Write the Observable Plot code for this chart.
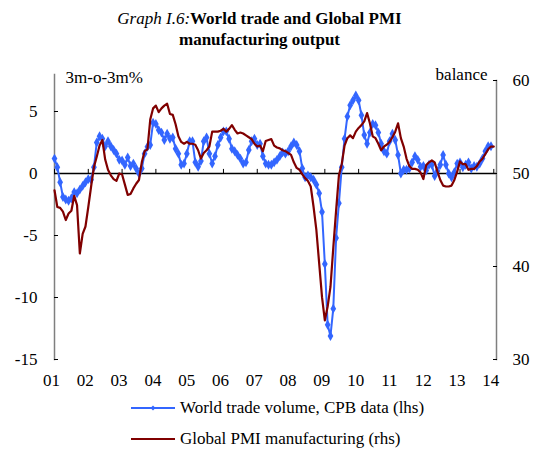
<!DOCTYPE html>
<html>
<head>
<meta charset="utf-8">
<script src="https://cdn.jsdelivr.net/npm/d3@7"></script>
<script src="https://cdn.jsdelivr.net/npm/@observablehq/plot@0.6"></script>
<style>
  html, body { margin: 0; padding: 0; background: #fff; }
  #wrap { position: relative; width: 533px; height: 449px; font-family: "Liberation Serif", "Times New Roman", serif; color: #000; }
  #title { position: absolute; top: 8px; left: 0; width: 519px; text-align: center; font-size: 17px; line-height: 21px; }
  #title i { font-style: italic; font-weight: normal; }
  #title b { font-weight: bold; }
  #chart { position: absolute; top: 60px; left: 0; }
  .leg { position: absolute; left: 131px; height: 20px; display: flex; align-items: center; font-size: 17px; white-space: nowrap; }
  .leg svg { margin-right: 5px; }
</style>
</head>
<body>
<div id="wrap">
  <div id="title"><i>Graph I.6:</i><b>World trade and Global PMI<br>manufacturing output</b></div>
  <div id="chart"></div>
  <div class="leg" style="top:398px"><svg width="44" height="10"><line x1="0" y1="5" x2="44" y2="5" stroke="#3366ff" stroke-width="2"/><path d="M22,2.5L24.5,5L22,7.5L19.5,5Z" fill="#3366ff"/></svg><span>World trade volume, CPB data (lhs)</span></div>
  <div class="leg" style="top:429px"><svg width="44" height="10"><line x1="0" y1="5" x2="44" y2="5" stroke="#800000" stroke-width="2"/></svg><span>Global PMI manufacturing (rhs)</span></div>
</div>
<script>
// World trade volume, CPB data, 3m-o-3m %, monthly from Jan 2001
const trade = [
  1.2, 0.5, -0.7, -1.9, -2.1, -2.2, -2.0, -1.5, -1.6, -1.3, -1.0, -0.7,
  -0.45, -0.5, 0.5, 2.5, 3.0, 2.8, 2.2, 2.6, 2.2, 1.9, 1.6, 1.1,
  1.05, 0.7, 1.3, 0.6, 0.8, 0.4, 0.0, 0.4, 1.6, 2.15, 2.3, 4.1,
  4.0, 3.5, 3.3, 2.7, 3.2, 2.8, 2.9, 2.0, 1.6, 0.7, 0.8, 1.6,
  2.6, 2.6, 0.9, 0.55, 1.0, 2.6, 2.9, 1.6, 0.8, 1.4, 2.3, 2.9,
  3.4, 3.4, 2.8, 2.0, 1.8, 1.5, 1.2, 0.8, 0.9, 1.9, 2.6, 2.8,
  2.3, 2.4, 1.4, 0.8, 0.7, 0.7, 0.9, 1.1, 1.4, 1.7, 1.6, 1.8,
  2.2, 2.5, 2.3, 1.8, 0.4, -0.3, -0.15, -0.3, -0.5, -0.9, -1.6, -3.1,
  -7.3, -12.2, -13.1, -10.9, -5.2, -2.4, 0.5, 2.8, 4.6, 5.5, 5.9, 6.3,
  5.9, 4.7, 3.1, 2.4, 3.3, 4.0, 3.9, 3.3, 2.4, 1.8, 1.6, 2.6,
  3.2, 2.7, 1.5, 0.0, 0.3, 0.3, 0.4, 0.9, 1.4, 1.1, 0.55, 0.6,
  0.25, 0.7, 0.7, -0.2, 0.2, 0.7, 1.5, 0.7, 0.0, -0.3, 0.1, 0.8,
  0.9, 0.5, 0.7, 0.9, 0.4, 0.6, 0.55, 0.8, 1.2, 1.8, 2.2, 2.2
];
// Global PMI manufacturing output (balance), monthly from Jan 2001
const pmi = [
  48.2, 46.4, 46.3, 45.9, 45.0, 45.7, 46.0, 47.6, 46.6, 41.4, 43.5, 44.3,
  46.4, 48.6, 50.7, 51.8, 53.0, 53.6, 51.5, 50.4, 49.8, 49.4, 49.2, 50.0,
  49.9, 48.8, 47.7, 47.8, 48.4, 48.9, 49.3, 51.2, 52.4, 52.6, 55.8, 57.0,
  57.3, 56.6, 57.0, 57.3, 57.5, 56.4, 56.3, 55.3, 54.0, 53.4, 53.2, 53.4,
  53.2, 53.2, 53.1, 52.5, 51.6, 52.2, 52.5, 52.9, 54.5, 54.5, 54.5, 54.6,
  54.8, 54.5, 54.8, 55.2, 54.7, 54.3, 54.4, 54.3, 54.1, 53.9, 53.7, 53.2,
  52.9, 53.0, 52.4, 53.5, 53.6, 53.7, 53.0, 52.8, 52.7, 52.5, 52.4, 52.2,
  52.0, 51.2, 50.6, 50.4, 49.9, 49.5, 49.2, 48.6, 46.4, 43.9, 40.3, 36.7,
  34.2, 35.7, 37.8, 42.0, 46.0, 49.8, 51.0, 53.0, 53.8, 54.1, 53.8, 54.5,
  54.9, 55.2, 55.6, 56.5, 55.4, 54.0, 53.8, 53.2, 52.5, 52.9, 53.1, 53.4,
  53.9, 54.5, 55.4, 53.8, 52.9, 51.6, 50.8, 50.5, 50.5, 50.4, 50.1, 49.4,
  50.9, 51.2, 51.4, 51.2, 50.2, 49.3, 48.7, 48.6, 48.6, 48.7, 49.3, 50.2,
  51.3, 51.0, 51.0, 50.4, 50.5, 50.5, 50.8, 51.3, 51.6, 52.1, 52.6, 52.9,
  52.9
];
const startYear = 2001;
const years = [2001, 2002, 2003, 2004, 2005, 2006, 2007, 2008, 2009, 2010, 2011, 2012, 2013, 2014];
const yearLabels = ["01", "02", "03", "04", "05", "06", "07", "08", "09", "10", "11", "12", "13", "14"];
const leftTicks = [-15, -10, -5, 0, 5];
const rightTicks = [30, 40, 50, 60];
const leftDomain = [-15, 7.5];
const rightDomain = [30, 60];

// map right-axis (balance) values onto the left scale
const k = (leftDomain[1] - leftDomain[0]) / (rightDomain[1] - rightDomain[0]);
const toLeft = p => leftDomain[0] + (p - rightDomain[0]) * k;
const toRight = v => rightDomain[0] + (v - leftDomain[0]) / k;

const tradeRows = trade.map((v, i) => ({ t: startYear + i / 12, v }));
const pmiRows = pmi.map((p, i) => ({ t: startYear + i / 12, v: toLeft(p) }));

const blue = "#3366ff";
const red = "#800000";

const chart = Plot.plot({
  width: 533,
  height: 335,
  marginLeft: 54,
  marginRight: 37,
  marginTop: 20,
  marginBottom: 36,
  style: { fontFamily: "Liberation Serif, Times New Roman, serif", fontSize: "17px", background: "white", overflow: "visible", color: "black" },
  x: { domain: [2001, 2014.08] },
  y: { domain: leftDomain },
  marks: [
    Plot.frame({ anchor: "left", stroke: "#7f7f7f", strokeWidth: 1.5, insetTop: -6 }),
    Plot.frame({ anchor: "right", stroke: "#7f7f7f", strokeWidth: 1.5 }),
    Plot.ruleY([0], { stroke: "black", strokeWidth: 1.5 }),
    Plot.ruleX(years, { x: d => d, y1: 0, y2: 0.33, stroke: "black", strokeWidth: 1 }),
    Plot.axisY({ anchor: "left", ticks: leftTicks, tickSize: 4, dx: 4, tickPadding: 17, label: null, tickFormat: d => String(d) }),
    Plot.axisY({ anchor: "right", ticks: rightTicks.map(toLeft), tickSize: 4, dx: -4, tickPadding: 16, label: null, tickFormat: d => String(Math.round(toRight(d))) }),
    Plot.axisX({ anchor: "bottom", ticks: years, tickSize: 0, tickPadding: 14, dx: -3, label: null, tickFormat: d => yearLabels[years.indexOf(d)] }),
    Plot.line(tradeRows, { x: "t", y: "v", stroke: blue, strokeWidth: 2 }),
    Plot.dot(tradeRows, { x: "t", y: "v", symbol: "diamond", r: 3, fill: blue }),
    Plot.line(pmiRows, { x: "t", y: "v", stroke: red, strokeWidth: 2.2 }),
    Plot.text(["3m-o-3m%"], { frameAnchor: "top-left", text: d => d, textAnchor: "start", lineAnchor: "middle", dx: 11, dy: -3 }),
    Plot.text(["balance"], { frameAnchor: "top-right", text: d => d, textAnchor: "end", lineAnchor: "middle", dx: -9, dy: -6 })
  ]
});
document.getElementById("chart").appendChild(chart);
</script>
</body>
</html>
